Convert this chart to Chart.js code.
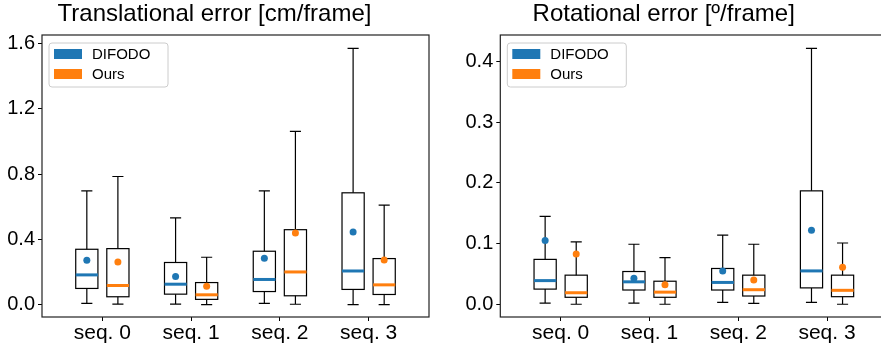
<!DOCTYPE html>
<html lang="en">
<head>
<meta charset="UTF-8">
<title>Translational / Rotational error</title>
<style>
  html, body { margin: 0; padding: 0; background: #fff; overflow: hidden; width: 881px; height: 344px; }
  canvas { position: absolute; top: 0; }
  #transChart { left: 0; }
  #rotChart { left: 440px; }
</style>
</head>
<body>
<canvas id="transChart" width="471" height="344"></canvas>
<canvas id="rotChart" width="492" height="344"></canvas>
<script src="https://cdn.jsdelivr.net/npm/chart.js@4"></script>
<script>
const categories = ['seq. 0', 'seq. 1', 'seq. 2', 'seq. 3'];
const seriesNames = ['DIFODO', 'Ours'];
const seriesColors = ['#1f77b4', '#ff7f0e'];

// translational error [cm/frame]
const transDifodoMin  = [0.007, 0.003, 0.007, 0.000];
const transDifodoQ1   = [0.099, 0.064, 0.080, 0.093];
const transDifodoMed  = [0.182, 0.125, 0.154, 0.206];
const transDifodoQ3   = [0.339, 0.258, 0.327, 0.685];
const transDifodoMax  = [0.697, 0.532, 0.697, 1.570];
const transDifodoMean = [0.272, 0.172, 0.284, 0.445];
const transOursMin  = [0.003, 0.000, 0.002, 0.000];
const transOursQ1   = [0.048, 0.032, 0.054, 0.062];
const transOursMed  = [0.117, 0.060, 0.200, 0.121];
const transOursQ3   = [0.343, 0.135, 0.459, 0.282];
const transOursMax  = [0.785, 0.290, 1.061, 0.610];
const transOursMean = [0.261, 0.113, 0.439, 0.274];
const transTicks = [0.0, 0.4, 0.8, 1.2, 1.6];

// rotational error [deg/frame]
const rotDifodoMin  = [0.002, 0.002, 0.003, 0.003];
const rotDifodoQ1   = [0.025, 0.0235, 0.0235, 0.027];
const rotDifodoMed  = [0.039, 0.037, 0.036, 0.055];
const rotDifodoQ3   = [0.074, 0.054, 0.059, 0.187];
const rotDifodoMax  = [0.145, 0.099, 0.114, 0.422];
const rotDifodoMean = [0.105, 0.043, 0.055, 0.122];
const rotOursMin  = [0.000, 0.000, 0.0016, 0.000];
const rotOursQ1   = [0.0115, 0.0115, 0.0136, 0.0125];
const rotOursMed  = [0.019, 0.020, 0.024, 0.023];
const rotOursQ3   = [0.048, 0.038, 0.048, 0.048];
const rotOursMax  = [0.103, 0.077, 0.099, 0.101];
const rotOursMean = [0.083, 0.032, 0.040, 0.061];
const rotTicks = [0.0, 0.1, 0.2, 0.3, 0.4];

const offsets = [-0.175, 0.175];
const boxWidth = 0.25;

Chart.defaults.font.family = "'Liberation Sans', Arial, sans-serif";
Chart.defaults.color = '#000';

// boxes, whiskers and medians, drawn below the mean points
const boxPlugin = {
    id: 'boxes',
    beforeDatasetsDraw(chart, args, opts) {
        const ctx = chart.ctx;
        const x = chart.scales.x, y = chart.scales.y;
        ctx.save();
        opts.stats.forEach((st, s) => {
            st.med.forEach((m, i) => {
                const pos = i + 1 + offsets[s];
                const cx = x.getPixelForValue(pos);
                const l = x.getPixelForValue(pos - boxWidth / 2);
                const r = x.getPixelForValue(pos + boxWidth / 2);
                const cl = x.getPixelForValue(pos - boxWidth / 4);
                const cr = x.getPixelForValue(pos + boxWidth / 4);
                const yMin = y.getPixelForValue(st.min[i]);
                const yQ1 = y.getPixelForValue(st.q1[i]);
                const yQ3 = y.getPixelForValue(st.q3[i]);
                const yMax = y.getPixelForValue(st.max[i]);
                const yMed = y.getPixelForValue(m);
                ctx.strokeStyle = '#000';
                ctx.lineWidth = 1.2;
                ctx.beginPath();
                ctx.moveTo(cx, yQ1); ctx.lineTo(cx, yMin);
                ctx.moveTo(cl, yMin); ctx.lineTo(cr, yMin);
                ctx.moveTo(cx, yQ3); ctx.lineTo(cx, yMax);
                ctx.moveTo(cl, yMax); ctx.lineTo(cr, yMax);
                ctx.stroke();
                ctx.strokeRect(l, yQ3, r - l, yQ1 - yQ3);
                ctx.strokeStyle = seriesColors[s];
                ctx.lineWidth = 3;
                ctx.beginPath();
                ctx.moveTo(l, yMed); ctx.lineTo(r, yMed);
                ctx.stroke();
            });
        });
        ctx.restore();
    },
    afterDatasetsDraw(chart) {
        const ctx = chart.ctx;
        const a = chart.chartArea;
        ctx.save();
        ctx.strokeStyle = '#222';
        ctx.lineWidth = 1.2;
        ctx.strokeRect(a.left, a.top, a.right - a.left, a.bottom - a.top);
        ctx.restore();
    },
    afterDraw(chart) {
        // legend box in the upper left corner, like matplotlib
        const ctx = chart.ctx;
        const a = chart.chartArea;
        const fx = a.left + 7, fy = a.top + 8, fw = 119, fh = 44;
        ctx.save();
        ctx.fillStyle = 'rgba(255,255,255,0.8)';
        ctx.strokeStyle = '#cccccc';
        ctx.lineWidth = 1;
        ctx.beginPath();
        ctx.roundRect(fx, fy, fw, fh, 3);
        ctx.fill();
        ctx.stroke();
        ctx.font = "15px 'Liberation Sans', Arial, sans-serif";
        ctx.textBaseline = 'middle';
        chart.data.datasets.forEach((ds, k) => {
            const rowY = fy + 11 + k * 20;
            ctx.fillStyle = ds.backgroundColor;
            ctx.fillRect(fx + 5, rowY - 5, 28, 10);
            ctx.fillStyle = '#000';
            ctx.fillText(ds.label, fx + 43, rowY + 1);
        });
        ctx.restore();
    }
};

function makeChart(id, titleText, stats, means, yMin, yMax, yTicks, yAxisWidth, padRight) {
    const ctx = document.getElementById(id).getContext('2d');
    return new Chart(ctx, {
        type: 'scatter',
        data: {
            datasets: seriesNames.map((name, s) => ({
                label: name,
                data: categories.map((c, i) => ({ x: i + 1 + offsets[s], y: means[s][i] })),
                backgroundColor: seriesColors[s],
                borderColor: seriesColors[s],
                pointRadius: 3.5,
                pointBorderWidth: 0
            }))
        },
        options: {
            responsive: false,
            animation: false,
            layout: { padding: { left: 0, right: padRight, top: 0, bottom: 0 } },
            plugins: {
                legend: { display: false },
                tooltip: { enabled: false },
                title: {
                    display: true,
                    text: titleText,
                    color: '#000',
                    font: { size: 24, weight: 'normal', lineHeight: 1 },
                    padding: { top: 2, bottom: 9 }
                },
                boxes: { stats: stats }
            },
            scales: {
                x: {
                    type: 'linear',
                    min: 0.32,
                    max: 4.68,
                    afterBuildTicks: sc => { sc.ticks = categories.map((c, i) => ({ value: i + 1 })); },
                    afterFit: sc => { sc.height = 27; },
                    ticks: {
                        callback: v => categories[v - 1],
                        font: { size: 21 },
                        color: '#000',
                        padding: 0,
                        maxRotation: 0
                    },
                    grid: { drawOnChartArea: false, tickLength: 4, tickColor: '#000' },
                    border: { display: false }
                },
                y: {
                    min: yMin,
                    max: yMax,
                    afterBuildTicks: sc => { sc.ticks = yTicks.map(v => ({ value: v })); },
                    afterFit: sc => { sc.width = yAxisWidth; },
                    ticks: {
                        callback: v => v.toFixed(1),
                        font: { size: 20 },
                        color: '#000',
                        padding: 3
                    },
                    grid: { drawOnChartArea: false, tickLength: 4, tickColor: '#000' },
                    border: { display: false }
                }
            }
        },
        plugins: [boxPlugin]
    });
}

makeChart('transChart', 'Translational error [cm/frame]',
    [
        { min: transDifodoMin, q1: transDifodoQ1, med: transDifodoMed, q3: transDifodoQ3, max: transDifodoMax },
        { min: transOursMin, q1: transOursQ1, med: transOursMed, q3: transOursQ3, max: transOursMax }
    ],
    [transDifodoMean, transOursMean],
    -0.076, 1.652, transTicks, 42, 42);

makeChart('rotChart', 'Rotational error [º/frame]',
    [
        { min: rotDifodoMin, q1: rotDifodoQ1, med: rotDifodoMed, q3: rotDifodoQ3, max: rotDifodoMax },
        { min: rotOursMin, q1: rotOursQ1, med: rotOursMed, q3: rotOursQ3, max: rotOursMax }
    ],
    [rotDifodoMean, rotOursMean],
    -0.021, 0.444, rotTicks, 60.3, 44.6);
</script>
</body>
</html>
